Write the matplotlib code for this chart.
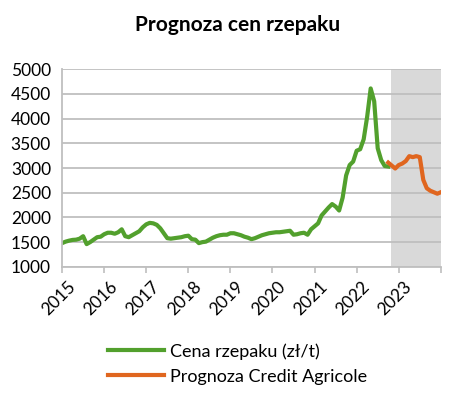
import numpy as np
import matplotlib.pyplot as plt
from matplotlib.transforms import ScaledTranslation

plt.rcParams['font.family'] = ['Lato', 'DejaVu Sans']

# monthly values, month 0 = Jan 2015
price = [1480, 1510, 1530, 1545, 1550, 1570, 1620, 1460, 1500, 1550,
         1600, 1610, 1660, 1690, 1690, 1670, 1700, 1760, 1620, 1600,
         1640, 1680, 1720, 1800, 1860, 1890, 1880, 1850, 1780, 1680,
         1580, 1570, 1580, 1590, 1600, 1620, 1630, 1560, 1550, 1480,
         1500, 1510, 1550, 1590, 1620, 1640, 1650, 1650, 1680, 1680,
         1660, 1640, 1610, 1590, 1560, 1580, 1610, 1640, 1660, 1680,
         1690, 1700, 1700, 1710, 1720, 1730, 1650, 1660, 1680, 1690,
         1650, 1760, 1820, 1880, 2040, 2120, 2200, 2270, 2220, 2140,
         2400, 2850, 3060, 3130, 3350, 3380, 3580, 4040, 4610, 4350,
         3400, 3160, 3040, 3030]
forecast = [3110, 3050, 2990, 3060, 3090, 3140, 3240, 3220, 3240, 3220,
            2760, 2590, 2540, 2510, 2480, 2510]
forecast_start = 93
years = [2015, 2016, 2017, 2018, 2019, 2020, 2021, 2022, 2023]
shade_start = 93.8

m_price = np.arange(len(price))
m_fc = np.arange(forecast_start, forecast_start + len(forecast))

fig = plt.figure(figsize=(4.74, 3.93), dpi=100)
ax = fig.add_axes([0.131, 0.321, 0.799, 0.503])

ax.axvspan(shade_start, 108, color='#d9d9d9', zorder=0.2, lw=0)
ax.plot(m_price, price, color='#52a02d', lw=3, solid_joinstyle='round',
        label='Cena rzepaku (zł/t)')
ax.plot(m_fc, forecast, color='#e0661f', lw=3, solid_joinstyle='round',
        label='Prognoza Credit Agricole')

ax.set_xlim(0, 108)
ax.set_ylim(1000, 5000)
ax.set_yticks(range(1000, 5001, 500))
ax.set_xticks(range(0, 109, 12))
ax.set_xticklabels([str(y) for y in years] + [''], rotation=45,
                   ha='right', rotation_mode='anchor')
ax.tick_params(axis='x', length=4, color='#bfbfbf', width=1.2,
               labelsize=12.5, pad=3)
ax.tick_params(axis='y', length=0, labelsize=12.5, pad=8)
# nudge rotated year labels a little right, as in the original
shift = ScaledTranslation(5 / 100, -2 / 100, fig.dpi_scale_trans)
for lbl in ax.get_xticklabels():
    lbl.set_transform(lbl.get_transform() + shift)

ax.set_axisbelow(True)
ax.grid(axis='y', color='#bfbfbf', lw=1.3)
for s in ['top', 'right']:
    ax.spines[s].set_visible(False)
for s in ['left', 'bottom']:
    ax.spines[s].set_color('#bfbfbf')
    ax.spines[s].set_linewidth(1.3)

fig.text(0.502, 0.936, 'Prognoza cen rzepaku', ha='center', va='center',
         fontsize=15, fontweight='bold')

fig.legend(loc='center left', bbox_to_anchor=(0.228, 0.074), frameon=False,
           fontsize=13, handlelength=3.1, handletextpad=0.35,
           labelspacing=0.5, borderpad=0, borderaxespad=0)

fig.savefig('out.png', dpi=100)
